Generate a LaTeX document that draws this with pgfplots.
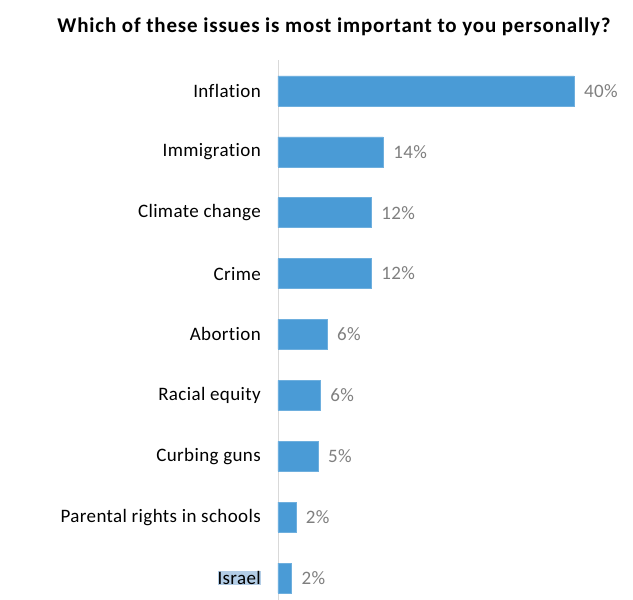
\documentclass[border=0pt]{standalone}
\usepackage{pgfplots}
\pgfplotsset{compat=1.18}
\usepackage{fontspec}
\setmainfont{Carlito}[LetterSpace=4, Ligatures=NoCommon]
\newfontfamily\labelfont{Carlito}[LetterSpace=2, Ligatures=NoCommon]
\definecolor{barblue}{HTML}{4A9BD6}
\definecolor{valgray}{HTML}{7F7F7F}
\definecolor{hl}{HTML}{B3CDE6}
\definecolor{axgray}{HTML}{D9D9D9}
\begin{document}
\begin{tikzpicture}
\useasboundingbox (0pt,0pt) rectangle (633pt,600pt);
\node[font=\fontsize{21}{24}\selectfont\bfseries] at (334pt,573pt) {Which of these issues is most important to you personally?};
\begin{axis}[
  at={(278pt,0pt)}, anchor=south west,
  scale only axis,
  width=333pt, height=539.6pt,
  xmin=0, xmax=45,
  ymin=-0.5, ymax=8.36,
  y dir=reverse,
  xbar, bar width=30pt,
  hide x axis,
  axis y line*=left,
  y axis line style={draw=axgray, line width=0.8pt, -},
  major tick length=0pt,
  ytick={0,...,8},
  yticklabels={Inflation, Immigration, Climate change, Crime, Abortion, Racial equity, Curbing guns, Parental rights in schools, {{\setlength\fboxsep{0pt}\colorbox{hl}{Israel}}}},
  yticklabel style={font=\labelfont\fontsize{19}{22}\selectfont, inner sep=0pt, xshift=-17pt, text=black},
  point meta=explicit symbolic,
  nodes near coords={\pgfplotspointmeta\%},
  nodes near coords style={font=\labelfont\fontsize{19}{22}\selectfont, text=valgray, anchor=west, inner sep=0pt, xshift=10pt},
  clip=false,
]
\addplot[fill=barblue, draw=barblue!80!white] coordinates {
  (40,0) [40]
  (14.2,1) [14]
  (12.6,2) [12]
  (12.6,3) [12]
  (6.6,4) [6]
  (5.7,5) [6]
  (5.4,6) [5]
  (2.4,7) [2]
  (1.8,8) [2]
};
\end{axis}
\end{tikzpicture}
\end{document}
